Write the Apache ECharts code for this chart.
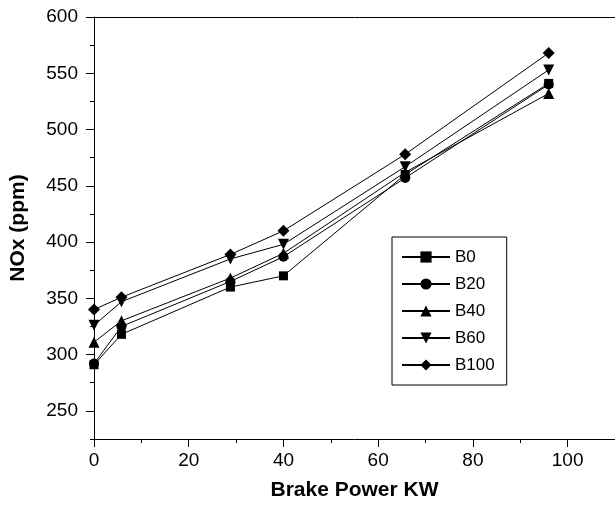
<!DOCTYPE html>
<html>
<head>
<meta charset="utf-8">
<script src="https://cdn.jsdelivr.net/npm/echarts@6/dist/echarts.min.js"></script>
<style>
  html, body { margin: 0; padding: 0; background: #fff; }
  #main { width: 615px; height: 506px; }
</style>
</head>
<body>
<div id="main"></div>
<script>
// brake power (KW)
var power = [0, 5.8, 28.8, 40, 65.7, 96];
// NOx (ppm) per blend
var b0 = [291, 318, 360, 370, 460, 541];
var b20 = [292, 325, 365, 387, 457, 540];
var b40 = [311, 330, 368, 390, 462, 532];
var b60 = [326, 347, 385, 398, 467, 553];
var b100 = [340, 351, 389, 410, 478, 568];
var names = ['B0', 'B20', 'B40', 'B60', 'B100'];

var yMajor = [250, 300, 350, 400, 450, 500, 550, 600];
var yMinor = [225, 275, 325, 375, 425, 475, 525, 575];
var xMajor = [0, 20, 40, 60, 80, 100];
var xMinor = [10, 30, 50, 70, 90, 110];

var font = 'Liberation Sans, Arial, sans-serif';
var diamond = 'path://M0,-1L1,0L0,1L-1,0Z';
var myChart = echarts.init(document.getElementById('main'));

function pairs(ys) {
    return ys.map(function (v, i) { return [power[i], v]; });
}

function mk(name, ys, symbol, size, rot) {
    return {
        name: name,
        type: 'line',
        data: pairs(ys),
        symbol: symbol,
        symbolSize: size,
        symbolRotate: rot || 0,
        lineStyle: { color: '#000', width: 1 },
        itemStyle: { color: '#000' },
        z: 3
    };
}

var option = {
    animation: false,
    grid: { left: 93, top: 17, right: 0, bottom: 61 },
    legend: {
        orient: 'vertical',
        left: 392, top: 237,
        itemWidth: 48, itemHeight: 14, itemGap: 9,
        padding: [11, 12, 11, 9],
        borderColor: '#000', borderWidth: 1,
        textStyle: { fontFamily: font, fontSize: 17, lineHeight: 18, color: '#000' },
        data: names
    },
    xAxis: [{
        type: 'value', min: 0, max: 110,
        name: 'Brake Power KW', nameLocation: 'middle', nameGap: 41,
        nameTextStyle: { fontFamily: font, fontSize: 21, fontWeight: 'bold', color: '#000' },
        axisLine: { lineStyle: { color: '#000' } },
        axisTick: { customValues: xMajor, length: 8, lineStyle: { color: '#000' } },
        axisLabel: { customValues: xMajor, fontFamily: font, fontSize: 19, color: '#000', margin: 12 },
        splitLine: { show: false }
    }, {
        type: 'value', min: 0, max: 110, position: 'bottom',
        axisLine: { show: false },
        axisTick: { customValues: xMinor, length: 4, lineStyle: { color: '#000' } },
        axisLabel: { show: false },
        splitLine: { show: false }
    }, {
        type: 'value', min: 0, max: 110, position: 'top',
        axisLine: { lineStyle: { color: '#000' } },
        axisTick: { show: false }, axisLabel: { show: false },
        splitLine: { show: false }
    }],
    yAxis: [{
        type: 'value', min: 225, max: 600,
        name: 'NOx (ppm)', nameLocation: 'middle', nameGap: 65,
        nameTextStyle: { fontFamily: font, fontSize: 21, fontWeight: 'bold', color: '#000' },
        axisLine: { show: true, lineStyle: { color: '#000' } },
        axisTick: { show: true, customValues: yMajor, length: 8, lineStyle: { color: '#000' } },
        axisLabel: { customValues: yMajor, fontFamily: font, fontSize: 19, color: '#000', margin: 16 },
        splitLine: { show: false }
    }, {
        type: 'value', min: 225, max: 600, position: 'left',
        axisLine: { show: false },
        axisTick: { show: true, customValues: yMinor, length: 4, lineStyle: { color: '#000' } },
        axisLabel: { show: false },
        splitLine: { show: false }
    }],
    series: [
        mk('B0', b0, 'rect', 9),
        mk('B20', b20, 'circle', 10),
        mk('B40', b40, 'triangle', 11),
        mk('B60', b60, 'triangle', 11, 180),
        mk('B100', b100, diamond, 12)
    ]
};
myChart.setOption(option);
</script>
</body>
</html>
